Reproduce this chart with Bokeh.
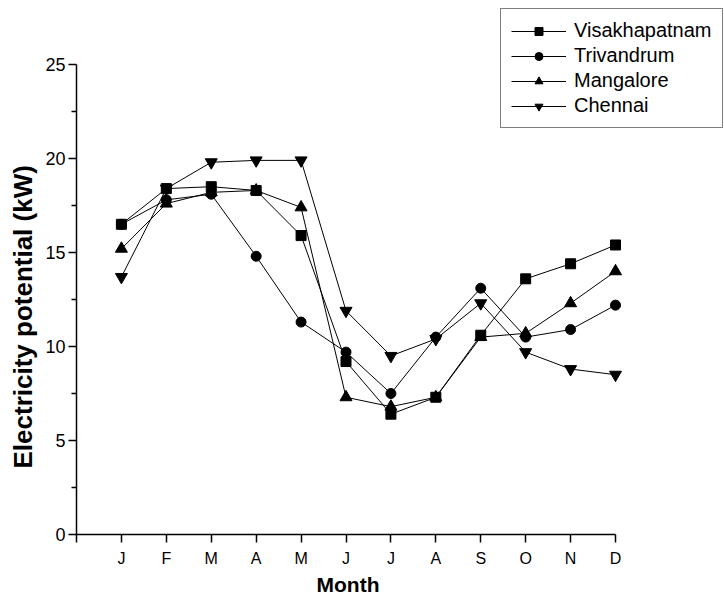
from bokeh.plotting import figure
from bokeh.models import Legend, LegendItem, FixedTicker, Range1d, Title
from bokeh.embed import file_html
from bokeh.resources import INLINE

months = ["J", "F", "M", "A", "M", "J", "J", "A", "S", "O", "N", "D"]
month_idx = list(range(1, 13))
visakhapatnam = [16.5, 18.4, 18.5, 18.3, 15.9, 9.2, 6.4, 7.3, 10.6, 13.6, 14.4, 15.4]
trivandrum = [16.5, 17.8, 18.1, 14.8, 11.3, 9.7, 7.5, 10.5, 13.1, 10.5, 10.9, 12.2]
mangalore = [15.2, 17.6, 18.2, 18.3, 17.4, 7.3, 6.8, 7.3, 10.5, 10.7, 12.3, 14.0]
chennai = [13.7, 18.4, 19.8, 19.9, 19.9, 11.9, 9.5, 10.4, 12.3, 9.7, 8.8, 8.5]
y_ticks = [0, 5, 10, 15, 20, 25]
y_minor = [2.5, 7.5, 12.5, 17.5, 22.5]

FONT = "Liberation Sans"

# frame spans the canvas to the top and right so the legend can sit there;
# the axes are bounded to the data extent (x 0..12, y 0..25)
p = figure(width=724, height=600, output_backend="svg", toolbar_location=None,
           x_range=Range1d(0, 12 * 648 / 539), y_range=Range1d(0, 25 * 534 / 470),
           min_border_left=76, min_border_right=0, min_border_top=0, min_border_bottom=66)
p.outline_line_color = None
p.xgrid.visible = False
p.ygrid.visible = False

series = [("Visakhapatnam", visakhapatnam, "square", 10),
          ("Trivandrum", trivandrum, "circle", 10),
          ("Mangalore", mangalore, "triangle", 12),
          ("Chennai", chennai, "inverted_triangle", 12)]
items = []
for name, vals, marker, size in series:
    l = p.line(month_idx, vals, line_color="black", line_width=1)
    s = p.scatter(month_idx, vals, marker=marker, size=size, fill_color="black", line_color="black")
    items.append(LegendItem(label=name, renderers=[l, s]))

legend = Legend(items=items, location=(424, 406), label_text_font=FONT, label_text_font_size="20px",
                label_text_color="black",
                border_line_color="black", border_line_width=1, background_fill_alpha=1,
                glyph_width=55, glyph_height=20, spacing=2, padding=10, margin=0,
                label_standoff=8, label_height=20)
p.add_layout(legend, "center")

xa = p.xaxis[0]
xa.ticker = FixedTicker(ticks=[0] + month_idx)
xa.bounds = (0, 12)
xa.major_label_overrides = {0: ""} | {i: m for i, m in zip(month_idx, months)}
ya = p.yaxis[0]
ya.ticker = FixedTicker(ticks=y_ticks, minor_ticks=y_minor)
ya.bounds = (0, 25)

for ax in (xa, ya):
    ax.axis_line_width = 1.5
    ax.major_tick_line_width = 1.5
    ax.minor_tick_line_width = 1.5
    ax.major_tick_in = 0
    ax.major_tick_out = 8
    ax.minor_tick_in = 0
    ax.minor_tick_out = 5
    ax.major_label_text_font = FONT
    ax.major_label_text_color = "black"
xa.minor_tick_out = 0
xa.major_label_text_font_size = "16px"
xa.major_label_standoff = 7
ya.major_label_text_font_size = "18px"
ya.major_label_standoff = 3

# axis titles, centred on the bounded axes rather than the whole frame
xtitle = Title(text="Month", align="left", offset=240, standoff=3, text_font=FONT,
               text_font_style="bold", text_font_size="21px", text_color="black")
p.add_layout(xtitle, "below")
ytitle = Title(text="Electricity potential (kW)", align="left", offset=66, standoff=9, text_font=FONT,
               text_font_style="bold", text_font_size="26px", text_color="black")
p.add_layout(ytitle, "left")

open("out.html", "w").write(file_html(p, INLINE))
